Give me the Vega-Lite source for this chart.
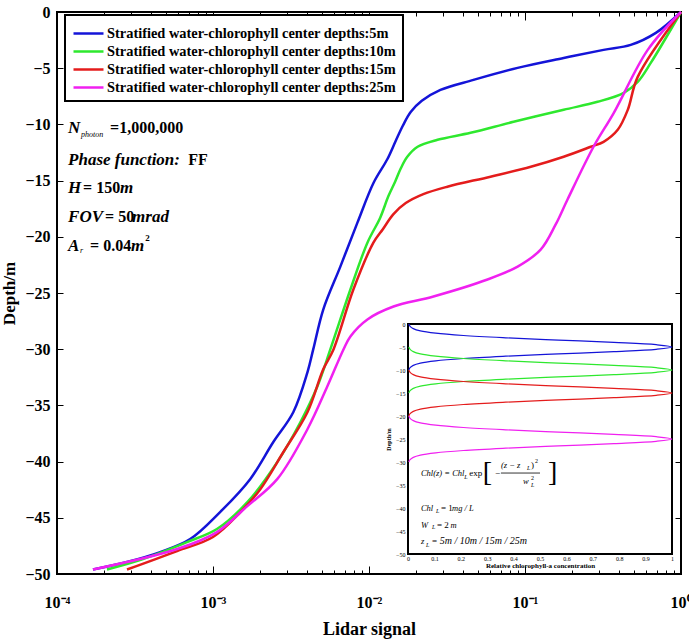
{
  "$schema": "https://vega.github.io/schema/vega-lite/v6.json",
  "width": 624,
  "height": 562,
  "autosize": {"type": "none"},
  "padding": {"left": 57, "top": 12, "right": 8, "bottom": 66},
  "config": {
    "font": "Liberation Serif",
    "view": {"stroke": "#000000", "strokeWidth": 2},
    "axis": {"labelColor": "#000000", "titleColor": "#000000", "tickColor": "#000000", "grid": false, "domain": false}
  },
  "datasets": {
    "profiles": [
      {"series": "Stratified water-chlorophyll center depths:5m", "signal": 1.0, "depth": 0},
      {"series": "Stratified water-chlorophyll center depths:5m", "signal": 0.69, "depth": -1.86},
      {"series": "Stratified water-chlorophyll center depths:5m", "signal": 0.476, "depth": -2.93},
      {"series": "Stratified water-chlorophyll center depths:5m", "signal": 0.319, "depth": -3.37},
      {"series": "Stratified water-chlorophyll center depths:5m", "signal": 0.177, "depth": -4.09},
      {"series": "Stratified water-chlorophyll center depths:5m", "signal": 0.0897, "depth": -4.97},
      {"series": "Stratified water-chlorophyll center depths:5m", "signal": 0.0468, "depth": -6.04},
      {"series": "Stratified water-chlorophyll center depths:5m", "signal": 0.0287, "depth": -6.93},
      {"series": "Stratified water-chlorophyll center depths:5m", "signal": 0.0218, "depth": -7.9},
      {"series": "Stratified water-chlorophyll center depths:5m", "signal": 0.0185, "depth": -8.9},
      {"series": "Stratified water-chlorophyll center depths:5m", "signal": 0.0165, "depth": -10.1},
      {"series": "Stratified water-chlorophyll center depths:5m", "signal": 0.0148, "depth": -11.5},
      {"series": "Stratified water-chlorophyll center depths:5m", "signal": 0.0131, "depth": -13.1},
      {"series": "Stratified water-chlorophyll center depths:5m", "signal": 0.0107, "depth": -15.19},
      {"series": "Stratified water-chlorophyll center depths:5m", "signal": 0.00843, "depth": -18.74},
      {"series": "Stratified water-chlorophyll center depths:5m", "signal": 0.00655, "depth": -22.65},
      {"series": "Stratified water-chlorophyll center depths:5m", "signal": 0.00509, "depth": -26.47},
      {"series": "Stratified water-chlorophyll center depths:5m", "signal": 0.00439, "depth": -30.02},
      {"series": "Stratified water-chlorophyll center depths:5m", "signal": 0.00403, "depth": -32.06},
      {"series": "Stratified water-chlorophyll center depths:5m", "signal": 0.00327, "depth": -35.61},
      {"series": "Stratified water-chlorophyll center depths:5m", "signal": 0.00243, "depth": -38.28},
      {"series": "Stratified water-chlorophyll center depths:5m", "signal": 0.00173, "depth": -41.56},
      {"series": "Stratified water-chlorophyll center depths:5m", "signal": 0.00111, "depth": -44.49},
      {"series": "Stratified water-chlorophyll center depths:5m", "signal": 0.000714, "depth": -46.89},
      {"series": "Stratified water-chlorophyll center depths:5m", "signal": 0.000458, "depth": -48.05},
      {"series": "Stratified water-chlorophyll center depths:5m", "signal": 0.000281, "depth": -48.93},
      {"series": "Stratified water-chlorophyll center depths:5m", "signal": 0.00017, "depth": -49.6},
      {"series": "Stratified water-chlorophyll center depths:10m", "signal": 1.0, "depth": 0},
      {"series": "Stratified water-chlorophyll center depths:10m", "signal": 0.64, "depth": -4.53},
      {"series": "Stratified water-chlorophyll center depths:10m", "signal": 0.528, "depth": -6.22},
      {"series": "Stratified water-chlorophyll center depths:10m", "signal": 0.43, "depth": -7.19},
      {"series": "Stratified water-chlorophyll center depths:10m", "signal": 0.292, "depth": -7.99},
      {"series": "Stratified water-chlorophyll center depths:10m", "signal": 0.177, "depth": -8.7},
      {"series": "Stratified water-chlorophyll center depths:10m", "signal": 0.0845, "depth": -9.77},
      {"series": "Stratified water-chlorophyll center depths:10m", "signal": 0.0448, "depth": -10.75},
      {"series": "Stratified water-chlorophyll center depths:10m", "signal": 0.0275, "depth": -11.37},
      {"series": "Stratified water-chlorophyll center depths:10m", "signal": 0.0205, "depth": -11.99},
      {"series": "Stratified water-chlorophyll center depths:10m", "signal": 0.0176, "depth": -12.88},
      {"series": "Stratified water-chlorophyll center depths:10m", "signal": 0.016, "depth": -13.9},
      {"series": "Stratified water-chlorophyll center depths:10m", "signal": 0.0147, "depth": -15.1},
      {"series": "Stratified water-chlorophyll center depths:10m", "signal": 0.0133, "depth": -16.4},
      {"series": "Stratified water-chlorophyll center depths:10m", "signal": 0.0118, "depth": -18.3},
      {"series": "Stratified water-chlorophyll center depths:10m", "signal": 0.00977, "depth": -20.52},
      {"series": "Stratified water-chlorophyll center depths:10m", "signal": 0.0076, "depth": -24.69},
      {"series": "Stratified water-chlorophyll center depths:10m", "signal": 0.00565, "depth": -30.02},
      {"series": "Stratified water-chlorophyll center depths:10m", "signal": 0.00467, "depth": -33.3},
      {"series": "Stratified water-chlorophyll center depths:10m", "signal": 0.00363, "depth": -36.5},
      {"series": "Stratified water-chlorophyll center depths:10m", "signal": 0.00258, "depth": -40.05},
      {"series": "Stratified water-chlorophyll center depths:10m", "signal": 0.00166, "depth": -43.61},
      {"series": "Stratified water-chlorophyll center depths:10m", "signal": 0.00106, "depth": -46.0},
      {"series": "Stratified water-chlorophyll center depths:10m", "signal": 0.000682, "depth": -47.16},
      {"series": "Stratified water-chlorophyll center depths:10m", "signal": 0.000356, "depth": -48.67},
      {"series": "Stratified water-chlorophyll center depths:10m", "signal": 0.000209, "depth": -49.6},
      {"series": "Stratified water-chlorophyll center depths:15m", "signal": 1.0, "depth": 0},
      {"series": "Stratified water-chlorophyll center depths:15m", "signal": 0.528, "depth": -5.77},
      {"series": "Stratified water-chlorophyll center depths:15m", "signal": 0.456, "depth": -8.7},
      {"series": "Stratified water-chlorophyll center depths:15m", "signal": 0.393, "depth": -10.48},
      {"series": "Stratified water-chlorophyll center depths:15m", "signal": 0.319, "depth": -11.55},
      {"series": "Stratified water-chlorophyll center depths:15m", "signal": 0.264, "depth": -11.99},
      {"series": "Stratified water-chlorophyll center depths:15m", "signal": 0.177, "depth": -12.88},
      {"series": "Stratified water-chlorophyll center depths:15m", "signal": 0.109, "depth": -13.77},
      {"series": "Stratified water-chlorophyll center depths:15m", "signal": 0.0601, "depth": -14.65},
      {"series": "Stratified water-chlorophyll center depths:15m", "signal": 0.0318, "depth": -15.54},
      {"series": "Stratified water-chlorophyll center depths:15m", "signal": 0.0223, "depth": -16.2},
      {"series": "Stratified water-chlorophyll center depths:15m", "signal": 0.0172, "depth": -17.0},
      {"series": "Stratified water-chlorophyll center depths:15m", "signal": 0.0143, "depth": -18.0},
      {"series": "Stratified water-chlorophyll center depths:15m", "signal": 0.0123, "depth": -19.3},
      {"series": "Stratified water-chlorophyll center depths:15m", "signal": 0.01067, "depth": -20.52},
      {"series": "Stratified water-chlorophyll center depths:15m", "signal": 0.00794, "depth": -24.69},
      {"series": "Stratified water-chlorophyll center depths:15m", "signal": 0.00592, "depth": -30.02},
      {"series": "Stratified water-chlorophyll center depths:15m", "signal": 0.00509, "depth": -31.79},
      {"series": "Stratified water-chlorophyll center depths:15m", "signal": 0.00403, "depth": -35.61},
      {"series": "Stratified water-chlorophyll center depths:15m", "signal": 0.00282, "depth": -39.17},
      {"series": "Stratified water-chlorophyll center depths:15m", "signal": 0.00201, "depth": -42.45},
      {"series": "Stratified water-chlorophyll center depths:15m", "signal": 0.0015, "depth": -44.49},
      {"series": "Stratified water-chlorophyll center depths:15m", "signal": 0.001, "depth": -46.71},
      {"series": "Stratified water-chlorophyll center depths:15m", "signal": 0.000589, "depth": -47.96},
      {"series": "Stratified water-chlorophyll center depths:15m", "signal": 0.000281, "depth": -49.6},
      {"series": "Stratified water-chlorophyll center depths:25m", "signal": 1.0, "depth": 0},
      {"series": "Stratified water-chlorophyll center depths:25m", "signal": 0.612, "depth": -3.37},
      {"series": "Stratified water-chlorophyll center depths:25m", "signal": 0.371, "depth": -8.97},
      {"series": "Stratified water-chlorophyll center depths:25m", "signal": 0.275, "depth": -11.99},
      {"series": "Stratified water-chlorophyll center depths:25m", "signal": 0.187, "depth": -16.7},
      {"series": "Stratified water-chlorophyll center depths:25m", "signal": 0.157, "depth": -18.92},
      {"series": "Stratified water-chlorophyll center depths:25m", "signal": 0.126, "depth": -21.14},
      {"series": "Stratified water-chlorophyll center depths:25m", "signal": 0.0897, "depth": -22.65},
      {"series": "Stratified water-chlorophyll center depths:25m", "signal": 0.0575, "depth": -23.8},
      {"series": "Stratified water-chlorophyll center depths:25m", "signal": 0.0259, "depth": -25.31},
      {"series": "Stratified water-chlorophyll center depths:25m", "signal": 0.01436, "depth": -26.2},
      {"series": "Stratified water-chlorophyll center depths:25m", "signal": 0.00977, "depth": -27.35},
      {"series": "Stratified water-chlorophyll center depths:25m", "signal": 0.0076, "depth": -28.86},
      {"series": "Stratified water-chlorophyll center depths:25m", "signal": 0.00686, "depth": -30.02},
      {"series": "Stratified water-chlorophyll center depths:25m", "signal": 0.00541, "depth": -33.3},
      {"series": "Stratified water-chlorophyll center depths:25m", "signal": 0.00403, "depth": -37.12},
      {"series": "Stratified water-chlorophyll center depths:25m", "signal": 0.00258, "depth": -41.56},
      {"series": "Stratified water-chlorophyll center depths:25m", "signal": 0.00166, "depth": -43.96},
      {"series": "Stratified water-chlorophyll center depths:25m", "signal": 0.00106, "depth": -46.27},
      {"series": "Stratified water-chlorophyll center depths:25m", "signal": 0.000589, "depth": -47.78},
      {"series": "Stratified water-chlorophyll center depths:25m", "signal": 0.00017, "depth": -49.6}
    ],
    "chlorophyll": [
      {"series": "Stratified water-chlorophyll center depths:5m", "conc": 0.003, "depth": 0},
      {"series": "Stratified water-chlorophyll center depths:5m", "conc": 0.008, "depth": -0.5},
      {"series": "Stratified water-chlorophyll center depths:5m", "conc": 0.02, "depth": -1},
      {"series": "Stratified water-chlorophyll center depths:5m", "conc": 0.047, "depth": -1.5},
      {"series": "Stratified water-chlorophyll center depths:5m", "conc": 0.105, "depth": -2},
      {"series": "Stratified water-chlorophyll center depths:5m", "conc": 0.21, "depth": -2.5},
      {"series": "Stratified water-chlorophyll center depths:5m", "conc": 0.37, "depth": -3},
      {"series": "Stratified water-chlorophyll center depths:5m", "conc": 0.57, "depth": -3.5},
      {"series": "Stratified water-chlorophyll center depths:5m", "conc": 0.78, "depth": -4},
      {"series": "Stratified water-chlorophyll center depths:5m", "conc": 0.94, "depth": -4.5},
      {"series": "Stratified water-chlorophyll center depths:5m", "conc": 1.0, "depth": -5},
      {"series": "Stratified water-chlorophyll center depths:5m", "conc": 0.94, "depth": -5.5},
      {"series": "Stratified water-chlorophyll center depths:5m", "conc": 0.78, "depth": -6},
      {"series": "Stratified water-chlorophyll center depths:5m", "conc": 0.57, "depth": -6.5},
      {"series": "Stratified water-chlorophyll center depths:5m", "conc": 0.37, "depth": -7},
      {"series": "Stratified water-chlorophyll center depths:5m", "conc": 0.21, "depth": -7.5},
      {"series": "Stratified water-chlorophyll center depths:5m", "conc": 0.105, "depth": -8},
      {"series": "Stratified water-chlorophyll center depths:5m", "conc": 0.047, "depth": -8.5},
      {"series": "Stratified water-chlorophyll center depths:5m", "conc": 0.02, "depth": -9},
      {"series": "Stratified water-chlorophyll center depths:5m", "conc": 0.008, "depth": -9.5},
      {"series": "Stratified water-chlorophyll center depths:5m", "conc": 0.003, "depth": -10},
      {"series": "Stratified water-chlorophyll center depths:10m", "conc": 0.003, "depth": -5},
      {"series": "Stratified water-chlorophyll center depths:10m", "conc": 0.008, "depth": -5.5},
      {"series": "Stratified water-chlorophyll center depths:10m", "conc": 0.02, "depth": -6},
      {"series": "Stratified water-chlorophyll center depths:10m", "conc": 0.047, "depth": -6.5},
      {"series": "Stratified water-chlorophyll center depths:10m", "conc": 0.105, "depth": -7},
      {"series": "Stratified water-chlorophyll center depths:10m", "conc": 0.21, "depth": -7.5},
      {"series": "Stratified water-chlorophyll center depths:10m", "conc": 0.37, "depth": -8},
      {"series": "Stratified water-chlorophyll center depths:10m", "conc": 0.57, "depth": -8.5},
      {"series": "Stratified water-chlorophyll center depths:10m", "conc": 0.78, "depth": -9},
      {"series": "Stratified water-chlorophyll center depths:10m", "conc": 0.94, "depth": -9.5},
      {"series": "Stratified water-chlorophyll center depths:10m", "conc": 1.0, "depth": -10},
      {"series": "Stratified water-chlorophyll center depths:10m", "conc": 0.94, "depth": -10.5},
      {"series": "Stratified water-chlorophyll center depths:10m", "conc": 0.78, "depth": -11},
      {"series": "Stratified water-chlorophyll center depths:10m", "conc": 0.57, "depth": -11.5},
      {"series": "Stratified water-chlorophyll center depths:10m", "conc": 0.37, "depth": -12},
      {"series": "Stratified water-chlorophyll center depths:10m", "conc": 0.21, "depth": -12.5},
      {"series": "Stratified water-chlorophyll center depths:10m", "conc": 0.105, "depth": -13},
      {"series": "Stratified water-chlorophyll center depths:10m", "conc": 0.047, "depth": -13.5},
      {"series": "Stratified water-chlorophyll center depths:10m", "conc": 0.02, "depth": -14},
      {"series": "Stratified water-chlorophyll center depths:10m", "conc": 0.008, "depth": -14.5},
      {"series": "Stratified water-chlorophyll center depths:10m", "conc": 0.003, "depth": -15},
      {"series": "Stratified water-chlorophyll center depths:15m", "conc": 0.003, "depth": -10},
      {"series": "Stratified water-chlorophyll center depths:15m", "conc": 0.008, "depth": -10.5},
      {"series": "Stratified water-chlorophyll center depths:15m", "conc": 0.02, "depth": -11},
      {"series": "Stratified water-chlorophyll center depths:15m", "conc": 0.047, "depth": -11.5},
      {"series": "Stratified water-chlorophyll center depths:15m", "conc": 0.105, "depth": -12},
      {"series": "Stratified water-chlorophyll center depths:15m", "conc": 0.21, "depth": -12.5},
      {"series": "Stratified water-chlorophyll center depths:15m", "conc": 0.37, "depth": -13},
      {"series": "Stratified water-chlorophyll center depths:15m", "conc": 0.57, "depth": -13.5},
      {"series": "Stratified water-chlorophyll center depths:15m", "conc": 0.78, "depth": -14},
      {"series": "Stratified water-chlorophyll center depths:15m", "conc": 0.94, "depth": -14.5},
      {"series": "Stratified water-chlorophyll center depths:15m", "conc": 1.0, "depth": -15},
      {"series": "Stratified water-chlorophyll center depths:15m", "conc": 0.94, "depth": -15.5},
      {"series": "Stratified water-chlorophyll center depths:15m", "conc": 0.78, "depth": -16},
      {"series": "Stratified water-chlorophyll center depths:15m", "conc": 0.57, "depth": -16.5},
      {"series": "Stratified water-chlorophyll center depths:15m", "conc": 0.37, "depth": -17},
      {"series": "Stratified water-chlorophyll center depths:15m", "conc": 0.21, "depth": -17.5},
      {"series": "Stratified water-chlorophyll center depths:15m", "conc": 0.105, "depth": -18},
      {"series": "Stratified water-chlorophyll center depths:15m", "conc": 0.047, "depth": -18.5},
      {"series": "Stratified water-chlorophyll center depths:15m", "conc": 0.02, "depth": -19},
      {"series": "Stratified water-chlorophyll center depths:15m", "conc": 0.008, "depth": -19.5},
      {"series": "Stratified water-chlorophyll center depths:15m", "conc": 0.003, "depth": -20},
      {"series": "Stratified water-chlorophyll center depths:25m", "conc": 0.003, "depth": -20},
      {"series": "Stratified water-chlorophyll center depths:25m", "conc": 0.008, "depth": -20.5},
      {"series": "Stratified water-chlorophyll center depths:25m", "conc": 0.02, "depth": -21},
      {"series": "Stratified water-chlorophyll center depths:25m", "conc": 0.047, "depth": -21.5},
      {"series": "Stratified water-chlorophyll center depths:25m", "conc": 0.105, "depth": -22},
      {"series": "Stratified water-chlorophyll center depths:25m", "conc": 0.21, "depth": -22.5},
      {"series": "Stratified water-chlorophyll center depths:25m", "conc": 0.37, "depth": -23},
      {"series": "Stratified water-chlorophyll center depths:25m", "conc": 0.57, "depth": -23.5},
      {"series": "Stratified water-chlorophyll center depths:25m", "conc": 0.78, "depth": -24},
      {"series": "Stratified water-chlorophyll center depths:25m", "conc": 0.94, "depth": -24.5},
      {"series": "Stratified water-chlorophyll center depths:25m", "conc": 1.0, "depth": -25},
      {"series": "Stratified water-chlorophyll center depths:25m", "conc": 0.94, "depth": -25.5},
      {"series": "Stratified water-chlorophyll center depths:25m", "conc": 0.78, "depth": -26},
      {"series": "Stratified water-chlorophyll center depths:25m", "conc": 0.57, "depth": -26.5},
      {"series": "Stratified water-chlorophyll center depths:25m", "conc": 0.37, "depth": -27},
      {"series": "Stratified water-chlorophyll center depths:25m", "conc": 0.21, "depth": -27.5},
      {"series": "Stratified water-chlorophyll center depths:25m", "conc": 0.105, "depth": -28},
      {"series": "Stratified water-chlorophyll center depths:25m", "conc": 0.047, "depth": -28.5},
      {"series": "Stratified water-chlorophyll center depths:25m", "conc": 0.02, "depth": -29},
      {"series": "Stratified water-chlorophyll center depths:25m", "conc": 0.008, "depth": -29.5},
      {"series": "Stratified water-chlorophyll center depths:25m", "conc": 0.003, "depth": -30}
    ]
  },
  "layer": [
    {
      "data": {"name": "profiles"},
      "mark": {"type": "line", "strokeWidth": 2.5, "interpolate": "catmull-rom"},
      "encoding": {
        "x": {
          "field": "signal", "type": "quantitative",
          "scale": {"type": "log", "domain": [0.0001, 1], "nice": false},
          "axis": {
            "orient": "bottom",
            "values": [0.0001, 0.0002, 0.0003, 0.0004, 0.0005, 0.0006, 0.0007, 0.0008, 0.0009, 0.001, 0.002, 0.003, 0.004, 0.005, 0.006, 0.007, 0.008, 0.009, 0.01, 0.02, 0.03, 0.04, 0.05, 0.06, 0.07, 0.08, 0.09, 0.1, 0.2, 0.3, 0.4, 0.5, 0.6, 0.7, 0.8, 0.9, 1],
            "labelExpr": "datum.value === 0.0001 ? '10⁻⁴' : datum.value === 0.001 ? '10⁻³' : datum.value === 0.01 ? '10⁻²' : datum.value === 0.1 ? '10⁻¹' : datum.value === 1 ? '10⁰' : ''",
            "labelFlush": false,
            "labelOverlap": false,
            "labelFontSize": 16,
            "labelFontWeight": "bold",
            "labelPadding": 28,
            "tickSize": {"condition": {"test": "indexof([0.0001, 0.001, 0.01, 0.1, 1], datum.value) >= 0", "value": -8}, "value": -4},
            "title": "Lidar signal",
            "titleFontSize": 18,
            "titleFontWeight": "bold",
            "titlePadding": 6
          }
        },
        "y": {
          "field": "depth", "type": "quantitative",
          "scale": {"domain": [-50, 0], "nice": false, "zero": false},
          "axis": {
            "orient": "left",
            "values": [-50, -45, -40, -35, -30, -25, -20, -15, -10, -5, 0],
            "labelFontSize": 16,
            "labelFontWeight": "bold",
            "labelPadding": 13,
            "tickSize": -6,
            "title": "Depth/m",
            "titleFontSize": 17,
            "titleFontWeight": "bold",
            "titlePadding": 6
          }
        },
        "order": {"field": "depth", "sort": "descending"},
        "color": {
          "field": "series", "type": "nominal",
          "scale": {
            "domain": ["Stratified water-chlorophyll center depths:5m", "Stratified water-chlorophyll center depths:10m", "Stratified water-chlorophyll center depths:15m", "Stratified water-chlorophyll center depths:25m"],
            "range": ["#1414d8", "#2ee82e", "#e41c1c", "#f020f0"]
          },
          "legend": {
            "orient": "none", "legendX": 8, "legendY": 3,
            "title": null,
            "symbolType": "M-1,0L2,0",
            "symbolSize": 400,
            "symbolStrokeWidth": 2.5,
            "labelFontSize": 14.4, "labelFontWeight": "bold", "labelColor": "#000000",
            "labelLimit": 500, "labelOffset": 12,
            "rowPadding": 0, "padding": 7,
            "strokeColor": "#000000", "fillColor": "#ffffff",
            "encode": {"legend": {"update": {"strokeWidth": {"value": 2}}}}
          }
        }
      }
    },
    {
      "data": {"values": [{}]},
      "mark": {"type": "point", "opacity": 0},
      "encoding": {
        "x": {
          "datum": 1, "type": "quantitative",
          "scale": {"type": "log", "domain": [0.0001, 1], "nice": false},
          "axis": {
            "orient": "top", "labels": false, "title": null,
            "values": [0.0001, 0.0002, 0.0003, 0.0004, 0.0005, 0.0006, 0.0007, 0.0008, 0.0009, 0.001, 0.002, 0.003, 0.004, 0.005, 0.006, 0.007, 0.008, 0.009, 0.01, 0.02, 0.03, 0.04, 0.05, 0.06, 0.07, 0.08, 0.09, 0.1, 0.2, 0.3, 0.4, 0.5, 0.6, 0.7, 0.8, 0.9, 1],
            "tickSize": {"condition": {"test": "indexof([0.0001, 0.001, 0.01, 0.1, 1], datum.value) >= 0", "value": -8}, "value": -4}
          }
        },
        "y": {
          "datum": 0, "type": "quantitative",
          "scale": {"domain": [-50, 0], "nice": false, "zero": false},
          "axis": {"orient": "right", "labels": false, "title": null, "values": [-50, -45, -40, -35, -30, -25, -20, -15, -10, -5, 0], "tickSize": -6}
        }
      }
    },
    {
      "data": {"values": [
        {"label": "N", "signal": 0.0001177, "depth": -10.32},
        {"label": "Phase  function:", "signal": 0.0001177, "depth": -13.17},
        {"label": "H", "signal": 0.0001177, "depth": -15.66},
        {"label": "m", "signal": 0.0002538, "depth": -15.66},
        {"label": "FOV", "signal": 0.0001177, "depth": -18.24},
        {"label": "mrad", "signal": 0.000303, "depth": -18.24},
        {"label": "A", "signal": 0.0001177, "depth": -20.82},
        {"label": "m", "signal": 0.0002985, "depth": -20.82}
      ]},
      "mark": {"type": "text", "align": "left", "baseline": "middle", "fontSize": 17, "fontWeight": "bold", "fontStyle": "italic", "color": "#000000"},
      "encoding": {
        "x": {"field": "signal", "type": "quantitative", "scale": {"type": "log", "domain": [0.0001, 1], "nice": false}, "axis": null},
        "y": {"field": "depth", "type": "quantitative", "scale": {"domain": [-50, 0], "nice": false, "zero": false}, "axis": null},
        "text": {"field": "label"}
      }
    },
    {
      "data": {"values": [
        {"label": "=1,000,000", "signal": 0.000219, "depth": -10.32},
        {"label": "FF", "signal": 0.000693, "depth": -13.17},
        {"label": "= 150", "signal": 0.0001469, "depth": -15.66},
        {"label": "= 50", "signal": 0.0002033, "depth": -18.24},
        {"label": "= 0.04", "signal": 0.0001628, "depth": -20.82}
      ]},
      "mark": {"type": "text", "align": "left", "baseline": "middle", "fontSize": 16, "fontWeight": "bold", "color": "#000000"},
      "encoding": {
        "x": {"field": "signal", "type": "quantitative", "scale": {"type": "log", "domain": [0.0001, 1], "nice": false}, "axis": null},
        "y": {"field": "depth", "type": "quantitative", "scale": {"domain": [-50, 0], "nice": false, "zero": false}, "axis": null},
        "text": {"field": "label"}
      }
    },
    {
      "data": {"values": [
        {"label": "photon", "signal": 0.0001426, "depth": -10.94},
        {"label": "r", "signal": 0.0001405, "depth": -21.26}
      ]},
      "mark": {"type": "text", "align": "left", "baseline": "middle", "fontSize": 8, "fontStyle": "italic", "color": "#000000"},
      "encoding": {
        "x": {"field": "signal", "type": "quantitative", "scale": {"type": "log", "domain": [0.0001, 1], "nice": false}, "axis": null},
        "y": {"field": "depth", "type": "quantitative", "scale": {"domain": [-50, 0], "nice": false, "zero": false}, "axis": null},
        "text": {"field": "label"}
      }
    },
    {
      "data": {"values": [
        {"label": "2", "signal": 0.0003673, "depth": -20.11}
      ]},
      "mark": {"type": "text", "align": "left", "baseline": "middle", "fontSize": 9, "fontWeight": "bold", "color": "#000000"},
      "encoding": {
        "x": {"field": "signal", "type": "quantitative", "scale": {"type": "log", "domain": [0.0001, 1], "nice": false}, "axis": null},
        "y": {"field": "depth", "type": "quantitative", "scale": {"domain": [-50, 0], "nice": false, "zero": false}, "axis": null},
        "text": {"field": "label"}
      }
    },
    {
      "data": {"values": [{}]},
      "mark": {"type": "rect", "fill": "#ffffff", "stroke": "#000000", "strokeWidth": 2},
      "encoding": {
        "x": {
          "datum": 0, "type": "quantitative",
          "scale": {"domain": [0, 1], "range": [351, 615], "nice": false, "zero": false},
          "axis": {
            "orient": "bottom", "offset": -20,
            "values": [0, 0.1, 0.2, 0.3, 0.4, 0.5, 0.6, 0.7, 0.8, 0.9, 1],
            "format": ".1~f",
            "labelFontSize": 6, "labelPadding": 4, "labelFlush": false, "labelOverlap": false,
            "tickSize": -3,
            "title": "Relative chlorophyll-a concentration",
            "titleFontSize": 7, "titleFontWeight": "bold", "titlePadding": 0
          }
        },
        "x2": {"datum": 1},
        "y": {
          "datum": -50, "type": "quantitative",
          "scale": {"domain": [-50, 0], "range": [542, 312], "nice": false, "zero": false},
          "axis": {
            "orient": "left", "offset": -351,
            "values": [-50, -45, -40, -35, -30, -25, -20, -15, -10, -5, 0],
            "labelFontSize": 6, "labelPadding": 6,
            "tickSize": -3,
            "title": "Depth/m",
            "titleFontSize": 6, "titleFontWeight": "bold", "titlePadding": 4
          }
        },
        "y2": {"datum": 0}
      }
    },
    {
      "data": {"name": "chlorophyll"},
      "mark": {"type": "line", "strokeWidth": 1.2, "interpolate": "catmull-rom"},
      "encoding": {
        "x": {"field": "conc", "type": "quantitative", "scale": {"domain": [0, 1], "range": [351, 615], "nice": false, "zero": false}, "axis": null},
        "y": {"field": "depth", "type": "quantitative", "scale": {"domain": [-50, 0], "range": [542, 312], "nice": false, "zero": false}, "axis": null},
        "order": {"field": "depth", "sort": "descending"},
        "color": {
          "field": "series", "type": "nominal",
          "scale": {
            "domain": ["Stratified water-chlorophyll center depths:5m", "Stratified water-chlorophyll center depths:10m", "Stratified water-chlorophyll center depths:15m", "Stratified water-chlorophyll center depths:25m"],
            "range": ["#1414d8", "#2ee82e", "#e41c1c", "#f020f0"]
          },
          "legend": {
            "orient": "none", "legendX": 8, "legendY": 3,
            "title": null,
            "symbolType": "M-1,0L2,0",
            "symbolSize": 400,
            "symbolStrokeWidth": 2.5,
            "labelFontSize": 14.4, "labelFontWeight": "bold", "labelColor": "#000000",
            "labelLimit": 500, "labelOffset": 12,
            "rowPadding": 0, "padding": 7,
            "strokeColor": "#000000", "fillColor": "#ffffff",
            "encode": {"legend": {"update": {"strokeWidth": {"value": 2}}}}
          }
        }
      }
    },
    {
      "data": {"values": [
        {"label": "Chl(z) = Chl", "conc": 0.049, "depth": -32.3},
        {"label": "Chl", "conc": 0.049, "depth": -39.9},
        {"label": "mg / L", "conc": 0.167, "depth": -39.9},
        {"label": "W", "conc": 0.049, "depth": -43.6},
        {"label": "m", "conc": 0.161, "depth": -43.6},
        {"label": "z", "conc": 0.049, "depth": -47.2},
        {"label": "(z − z", "conc": 0.352, "depth": -30.6},
        {"label": "w", "conc": 0.436, "depth": -34.2}
      ]},
      "mark": {"type": "text", "align": "left", "baseline": "middle", "fontSize": 8.5, "fontStyle": "italic", "color": "#000000"},
      "encoding": {
        "x": {"field": "conc", "type": "quantitative", "scale": {"domain": [0, 1], "range": [351, 615], "nice": false, "zero": false}, "axis": null},
        "y": {"field": "depth", "type": "quantitative", "scale": {"domain": [-50, 0], "range": [542, 312], "nice": false, "zero": false}, "axis": null},
        "text": {"field": "label"}
      }
    },
    {
      "data": {"values": [
        {"label": "5m / 10m / 15m / 25m", "conc": 0.12, "depth": -47.2}
      ]},
      "mark": {"type": "text", "align": "left", "baseline": "middle", "fontSize": 10, "fontStyle": "italic", "color": "#000000"},
      "encoding": {
        "x": {"field": "conc", "type": "quantitative", "scale": {"domain": [0, 1], "range": [351, 615], "nice": false, "zero": false}, "axis": null},
        "y": {"field": "depth", "type": "quantitative", "scale": {"domain": [-50, 0], "range": [542, 312], "nice": false, "zero": false}, "axis": null},
        "text": {"field": "label"}
      }
    },
    {
      "data": {"values": [
        {"label": "exp", "conc": 0.232, "depth": -32.3},
        {"label": "−", "conc": 0.33, "depth": -32.3},
        {"label": ")", "conc": 0.466, "depth": -30.6},
        {"label": "= 1", "conc": 0.125, "depth": -39.9},
        {"label": "= 2", "conc": 0.11, "depth": -43.6},
        {"label": "=", "conc": 0.091, "depth": -47.2}
      ]},
      "mark": {"type": "text", "align": "left", "baseline": "middle", "fontSize": 9, "color": "#000000"},
      "encoding": {
        "x": {"field": "conc", "type": "quantitative", "scale": {"domain": [0, 1], "range": [351, 615], "nice": false, "zero": false}, "axis": null},
        "y": {"field": "depth", "type": "quantitative", "scale": {"domain": [-50, 0], "range": [542, 312], "nice": false, "zero": false}, "axis": null},
        "text": {"field": "label"}
      }
    },
    {
      "data": {"values": [
        {"label": "L", "conc": 0.213, "depth": -33.3},
        {"label": "L", "conc": 0.451, "depth": -31.4},
        {"label": "L", "conc": 0.466, "depth": -35.1},
        {"label": "L", "conc": 0.106, "depth": -40.6},
        {"label": "L", "conc": 0.091, "depth": -44.2},
        {"label": "L", "conc": 0.068, "depth": -48.1}
      ]},
      "mark": {"type": "text", "align": "left", "baseline": "middle", "fontSize": 6, "fontStyle": "italic", "color": "#000000"},
      "encoding": {
        "x": {"field": "conc", "type": "quantitative", "scale": {"domain": [0, 1], "range": [351, 615], "nice": false, "zero": false}, "axis": null},
        "y": {"field": "depth", "type": "quantitative", "scale": {"domain": [-50, 0], "range": [542, 312], "nice": false, "zero": false}, "axis": null},
        "text": {"field": "label"}
      }
    },
    {
      "data": {"values": [
        {"label": "2", "conc": 0.481, "depth": -29.7},
        {"label": "2", "conc": 0.466, "depth": -33.4}
      ]},
      "mark": {"type": "text", "align": "left", "baseline": "middle", "fontSize": 6, "color": "#000000"},
      "encoding": {
        "x": {"field": "conc", "type": "quantitative", "scale": {"domain": [0, 1], "range": [351, 615], "nice": false, "zero": false}, "axis": null},
        "y": {"field": "depth", "type": "quantitative", "scale": {"domain": [-50, 0], "range": [542, 312], "nice": false, "zero": false}, "axis": null},
        "text": {"field": "label"}
      }
    },
    {
      "data": {"values": [
        {"label": "[", "conc": 0.283, "depth": -32.4},
        {"label": "]", "conc": 0.53, "depth": -32.4}
      ]},
      "mark": {"type": "text", "align": "left", "baseline": "middle", "fontSize": 28, "fontWeight": "lighter", "color": "#000000"},
      "encoding": {
        "x": {"field": "conc", "type": "quantitative", "scale": {"domain": [0, 1], "range": [351, 615], "nice": false, "zero": false}, "axis": null},
        "y": {"field": "depth", "type": "quantitative", "scale": {"domain": [-50, 0], "range": [542, 312], "nice": false, "zero": false}, "axis": null},
        "text": {"field": "label"}
      }
    },
    {
      "data": {"values": [{}]},
      "mark": {"type": "rule", "color": "#000000", "strokeWidth": 0.8},
      "encoding": {
        "x": {"datum": 0.352, "type": "quantitative", "scale": {"domain": [0, 1], "range": [351, 615], "nice": false, "zero": false}, "axis": null},
        "x2": {"datum": 0.5},
        "y": {"datum": -32.4, "type": "quantitative", "scale": {"domain": [-50, 0], "range": [542, 312], "nice": false, "zero": false}, "axis": null}
      }
    }
  ],
  "resolve": {
    "scale": {"x": "independent", "y": "independent"},
    "axis": {"x": "independent", "y": "independent"}
  }
}
